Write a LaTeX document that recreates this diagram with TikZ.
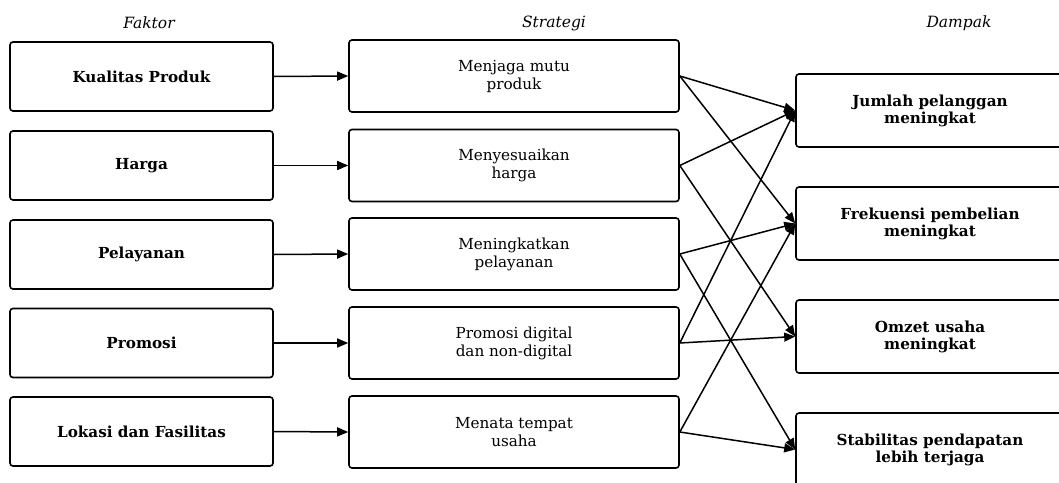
\documentclass[tikz,border=0pt]{standalone}
\usepackage{fontspec}
\setmainfont{DejaVu Serif}
\usetikzlibrary{arrows.meta}
\tikzset{
  faktor/.style={draw, line width=1.6pt, rounded corners=3pt, minimum width=263pt, minimum height=69pt, inner sep=0pt, font=\bfseries\fontsize{15.2}{17}\selectfont, align=center},
  strat/.style={draw, line width=1.6pt, rounded corners=3pt, minimum width=330pt, minimum height=72pt, inner sep=0pt, font=\fontsize{15.2}{18}\selectfont, align=center},
  dampak/.style={draw, line width=1.6pt, rounded corners=3pt, minimum width=268pt, minimum height=73pt, inner sep=0pt, font=\bfseries\fontsize{15.2}{17}\selectfont, align=center},
  head/.style={font=\itshape\fontsize{15.5}{17}\selectfont, inner sep=0pt},
  conn/.style={line width=1.5pt, -{Triangle[length=11pt,width=9pt]}}
}
\begin{document}
\begin{tikzpicture}[x=1pt,y=-1pt]
\useasboundingbox (0,0) rectangle (1059,482);
\clip (0,0) rectangle (1059,482);
\fill[white] (0,0) rectangle (1059,482);
\node[head] (hf) at (149,23) {Faktor};
\node[head] (hs) at (554,23) {Strategi};
\node[head] (hd) at (959,23) {Dampak};
\node[faktor] (f1) at (141.5,76.5) {Kualitas Produk};
\node[faktor] (f2) at (141.5,165.5) {Harga};
\node[faktor] (f3) at (141.5,254.5) {Pelayanan};
\node[faktor] (f4) at (141.5,343) {Promosi};
\node[faktor] (f5) at (141.5,431.5) {Lokasi dan Fasilitas};
\node[strat] (s1) at (514,76) {Menjaga mutu\\produk};
\node[strat] (s2) at (514,165.5) {Menyesuaikan\\harga};
\node[strat] (s3) at (514,254) {Meningkatkan\\pelayanan};
\node[strat] (s4) at (514,343) {Promosi digital\\dan non-digital};
\node[strat] (s5) at (514,432) {Menata tempat\\usaha};
\node[dampak] (d1) at (930,110.5) {Jumlah pelanggan\\meningkat};
\node[dampak] (d2) at (930,223.5) {Frekuensi pembelian\\meningkat};
\node[dampak] (d3) at (930,336.5) {Omzet usaha\\meningkat};
\node[dampak] (d4) at (930,449.5) {Stabilitas pendapatan\\lebih terjaga};
\foreach \i in {1,...,5} {\draw[conn] (f\i.east) -- (s\i.west);}
\draw[conn] (s1.east) -- (d1.west);
\draw[conn] (s1.east) -- (d2.west);
\draw[conn] (s2.east) -- (d1.west);
\draw[conn] (s2.east) -- (d3.west);
\draw[conn] (s3.east) -- (d2.west);
\draw[conn] (s3.east) -- (d4.west);
\draw[conn] (s4.east) -- (d1.west);
\draw[conn] (s4.east) -- (d3.west);
\draw[conn] (s5.east) -- (d2.west);
\draw[conn] (s5.east) -- (d4.west);
\end{tikzpicture}
\end{document}
